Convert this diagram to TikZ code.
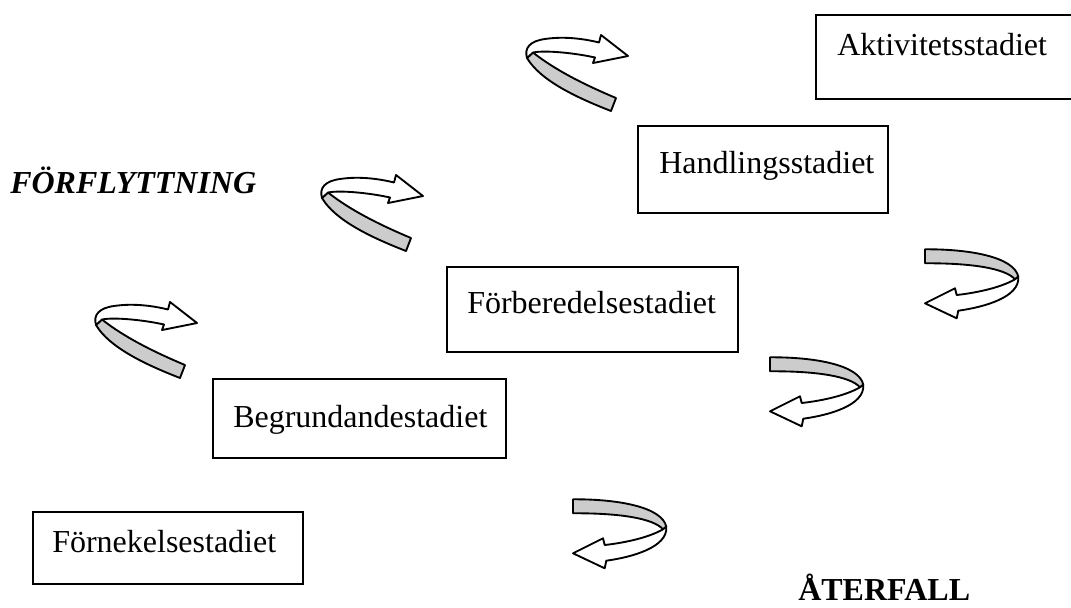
\documentclass[tikz,border=0pt]{standalone}
\usepackage{fontspec}
\setmainfont{Liberation Serif}
\definecolor{ribgray}{RGB}{204,204,204}
\begin{document}
\begin{tikzpicture}[x=0.75pt,y=-0.75pt,
  stagebox/.style={draw, line width=1.5pt, rectangle, inner sep=0pt, anchor=north west},
  lbl/.style={inner sep=0pt, anchor=base west, font=\fontsize{24}{28}\selectfont},
  ribbon/.style={draw, line width=1.4pt, line join=round},
  fwdribbon/.pic={
    \path[ribbon, fill=ribgray] (13,22.5) .. controls (35,40) and (65,55) .. (96,68) -- (91,81) .. controls (55,67) and (20,50) .. (7,28) -- cycle;
    \path[ribbon, fill=white] (7,28) .. controls (4,18) and (10,11) .. (25,9) .. controls (45,6) and (65,9) .. (79,12.5) -- (81,5) -- (108,26) -- (73,33) -- (75,27.5) .. controls (55,23) and (25,20) .. (13,22.5) -- cycle;
  },
  backribbon/.pic={
    \path[ribbon, fill=ribgray] (15,9.3) .. controls (60,9) and (104,17) .. (108.3,36.7) -- (105,39.3) .. controls (95,28) and (60,23) .. (15,23.3) -- cycle;
    \path[ribbon, fill=white] (105,39.3) .. controls (90,48) and (65,53) .. (46.7,55) -- (45,48.3) -- (15,63.3) -- (46.7,78.3) -- (48.3,70.7) .. controls (75,67) and (110,57) .. (108.3,36.7) -- cycle;
  }
]
\clip (0,0) rectangle (1071,607);

% stage boxes
\node[stagebox, minimum width=198.75pt, minimum height=63pt] (actbox) at (815,14) {};
\node[stagebox, minimum width=187.5pt, minimum height=65.25pt] (handbox) at (637,125) {};
\node[stagebox, minimum width=218.25pt, minimum height=63.75pt] (forbbox) at (446,266) {};
\node[stagebox, minimum width=219.75pt, minimum height=59.25pt] (begrbox) at (212,378) {};
\node[stagebox, minimum width=202.5pt, minimum height=54pt] (fornbox) at (32,511) {};

% stage labels
\node[lbl] (act) at (837,55) {Aktivitetsstadiet};
\node[lbl] (hand) at (659,173) {Handlingsstadiet};
\node[lbl] (forb) at (467,313) {Förberedelsestadiet};
\node[lbl] (begr) at (233,427) {Begrundandestadiet};
\node[lbl] (forn) at (52,552) {Förnekelsestadiet};

% headings
\node[lbl, font=\fontsize{24}{28}\selectfont\bfseries\itshape] (forfl) at (10,193) {FÖRFLYTTNING};
\node[lbl, font=\fontsize{24}{28}\selectfont\bfseries] (aterf) at (798,600) {ÅTERFALL};

% forward ribbons
\pic (fwdA) at (520,30) {fwdribbon};
\pic (fwdB) at (315,170) {fwdribbon};
\pic (fwdC) at (89,297) {fwdribbon};

% backward ribbons
\pic (backA) at (910,240) {backribbon};
\pic (backB) at (755,348) {backribbon};
\pic (backC) at (558,490) {backribbon};
\end{tikzpicture}
\end{document}
